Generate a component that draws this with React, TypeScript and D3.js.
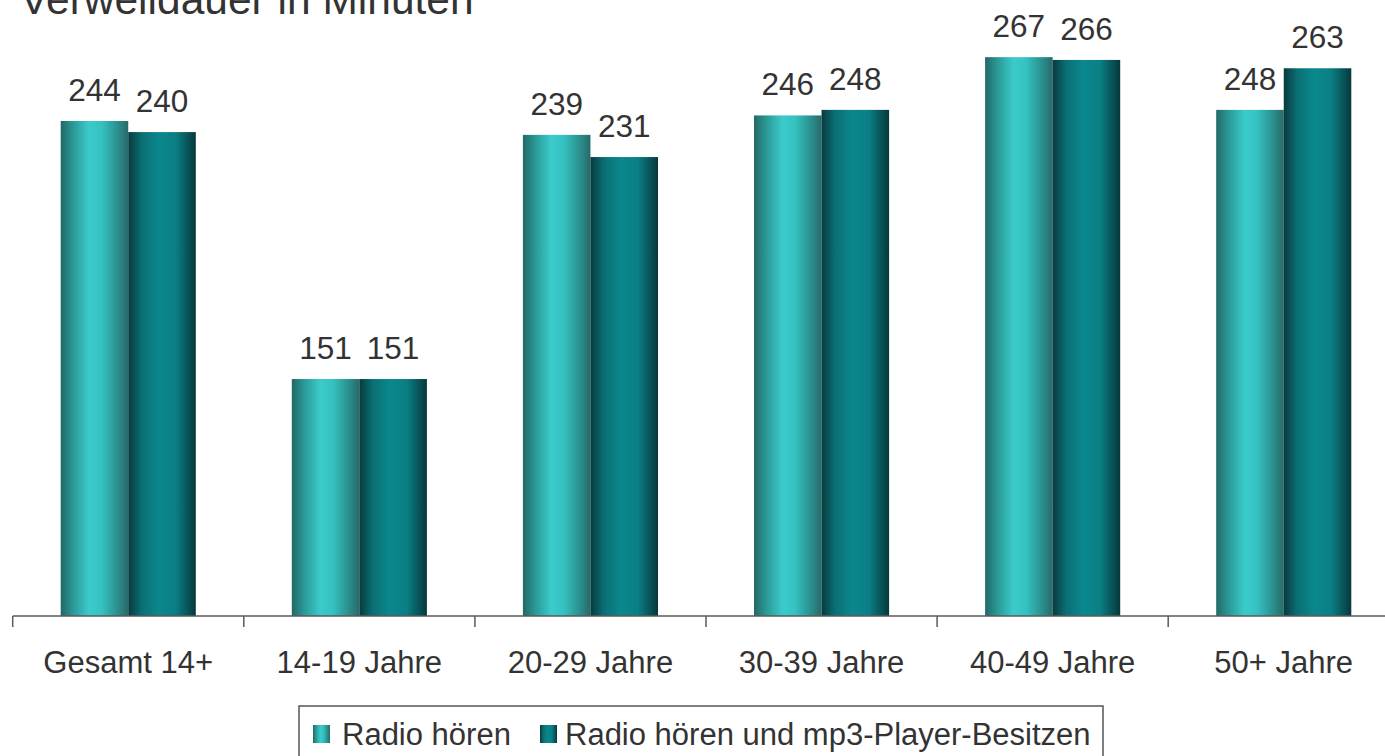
import React from "react";
import * as d3 from "d3";

const categories = ["Gesamt 14+", "14-19 Jahre", "20-29 Jahre", "30-39 Jahre", "40-49 Jahre", "50+ Jahre"];
const seriesNames = ["Radio hören", "Radio hören und mp3-Player-Besitzen"];
const radioHoeren = [244, 151, 239, 246, 267, 248];
const radioMp3 = [240, 151, 231, 248, 266, 263];
const title = "Verweildauer in Minuten";

const W = 1385;
const H = 756;
const FONT = "'Liberation Sans', Arial, Helvetica, sans-serif";
const TXT = "#333333";

export default function App() {
  const x = d3.scaleBand<string>().domain(categories).range([12.7, 12.7 + 6 * 231.1]).paddingInner(0).paddingOuter(0);
  const bw = x.bandwidth();
  const sub = d3.scaleBand<number>().domain([0, 1]).range([48, bw - 48]).padding(0);
  const y = d3.scaleLinear().domain([65.6, 287.6]).range([616, 0]);
  const series = [radioHoeren, radioMp3];
  const grads = ["g1", "g2"];

  return (
    <svg width={W} height={H} style={{ position: "absolute", left: 0, top: 0 }} fontFamily={FONT}>
      <defs>
        <linearGradient id="g1" x1="0" x2="1" y1="0" y2="0">
          <stop offset="0" stopColor="#236866" />
          <stop offset="0.18" stopColor="#2a9896" />
          <stop offset="0.42" stopColor="#3acbca" />
          <stop offset="0.6" stopColor="#35c3c2" />
          <stop offset="0.85" stopColor="#2a8e8c" />
          <stop offset="1" stopColor="#286a69" />
        </linearGradient>
        <linearGradient id="g2" x1="0" x2="1" y1="0" y2="0">
          <stop offset="0" stopColor="#073a3e" />
          <stop offset="0.2" stopColor="#0a6f74" />
          <stop offset="0.45" stopColor="#0a888d" />
          <stop offset="0.7" stopColor="#0a7f84" />
          <stop offset="1" stopColor="#06383c" />
        </linearGradient>
      </defs>
      <rect width={W} height={H} fill="#ffffff" />
      <text x={20} y={14} fontSize={42.5} fill={TXT}>{title}</text>

      {categories.map((c, i) => (
        <g key={c} transform={`translate(${x(c)},0)`}>
          {series.map((s, k) => {
            const bx = sub(k)!;
            const top = y(s[i]);
            return (
              <g key={k}>
                <rect x={bx} y={top} width={sub.bandwidth()} height={y.range()[0] - top} fill={`url(#${grads[k]})`} />
                <text x={bx + sub.bandwidth() / 2} y={top - 20} textAnchor="middle" fontSize={31.5} fill={TXT}>{s[i]}</text>
              </g>
            );
          })}
          <text x={bw / 2} y={673} textAnchor="middle" fontSize={31} fill={TXT}>{c}</text>
        </g>
      ))}

      <line x1={12.7} x2={W} y1={616} y2={616} stroke="#5a5a5a" strokeWidth={1.5} />
      {d3.range(categories.length + 1).map((i) => {
        const tx = 12.7 + i * bw;
        return <line key={i} x1={tx} x2={tx} y1={616} y2={627} stroke="#5a5a5a" strokeWidth={1.5} />;
      })}

      <rect x={299} y={706} width={804} height={70} fill="none" stroke="#555" strokeWidth={1.5} />
      <rect x={313} y={725} width={17} height={18} fill="url(#g1)" />
      <text x={342} y={745} fontSize={31} fill={TXT}>{seriesNames[0]}</text>
      <rect x={540} y={725} width={17} height={18} fill="url(#g2)" />
      <text x={565} y={745} fontSize={31} fill={TXT}>{seriesNames[1]}</text>
    </svg>
  );
}
